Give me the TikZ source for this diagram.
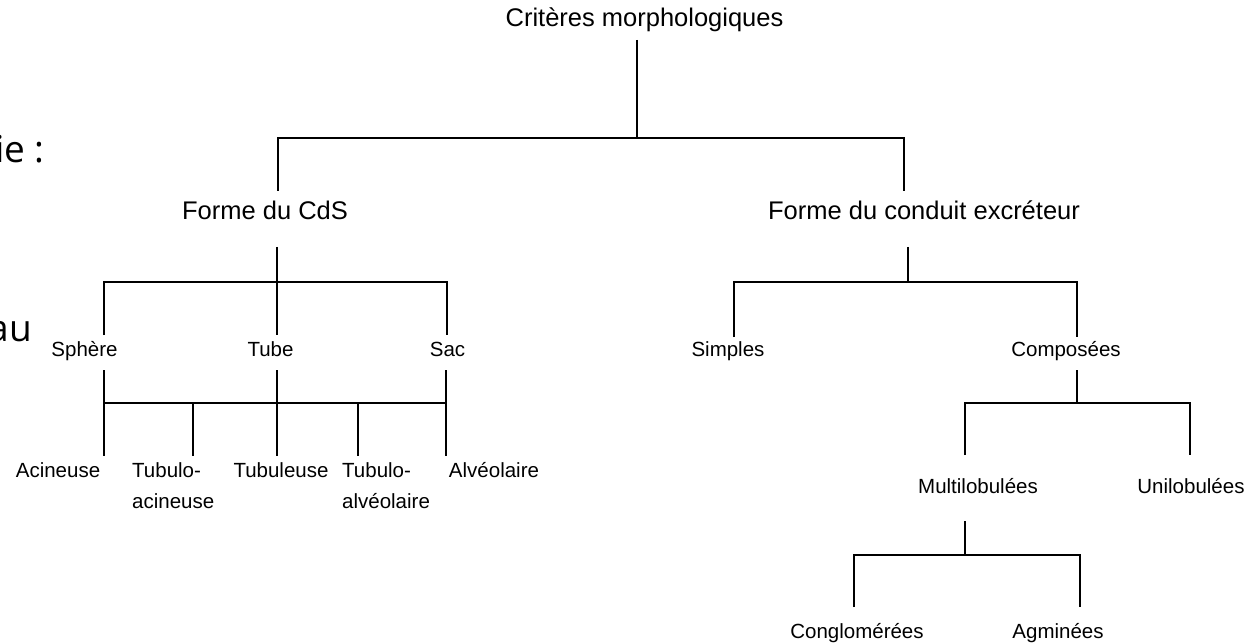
\documentclass[tikz,border=0pt]{standalone}
\usepackage{fontspec}
\setmainfont{Liberation Sans}
\newfontfamily\edgefont{Open Sans}
\begin{document}
\begin{tikzpicture}[x=1bp,y=-1bp,
  big/.style={font=\fontsize{25.5bp}{30bp}\selectfont, inner sep=0pt, anchor=base},
  small/.style={font=\fontsize{20.5bp}{31bp}\selectfont, inner sep=0pt, anchor=base},
  two/.style={small, align=left, anchor=north west},
  edgetext/.style={font=\edgefont\fontsize{37bp}{40bp}\selectfont, inner sep=0pt, anchor=base east},
  link/.style={line width=2.7bp, line cap=butt, line join=miter}]
\useasboundingbox (0,0) rectangle (1250,643);
\clip (0,0) rectangle (1250,643);
\fill[white] (0,0) rectangle (1250,643);

% text nodes
\node[big] (crit) at (644.5,27) {Critères morphologiques};
\node[big] (cds) at (265,220) {Forme du CdS};
\node[big] (cond) at (924,220) {Forme du conduit excréteur};
\node[small] (sph) at (84.5,357) {Sphère};
\node[small] (tube) at (270.5,357) {Tube};
\node[small] (sac) at (447.5,357) {Sac};
\node[small] (simp) at (728,357) {Simples};
\node[small] (comp) at (1066,357) {Composées};
\node[small] (aci) at (58,477) {Acineuse};
\node[two] (ta) at (132,462) {Tubulo-\\acineuse};
\node[small] (tub) at (281,477) {Tubuleuse};
\node[two] (tal) at (342,462) {Tubulo-\\alvéolaire};
\node[small] (alv) at (494,477) {Alvéolaire};
\node[small] (multi) at (978,493) {Multilobulées};
\node[small] (uni) at (1191,493) {Unilobulées};
\node[small] (cong) at (857,638) {Conglomérées};
\node[small] (agm) at (1058,638) {Agminées};
\node[edgetext] (e1) at (45,163) {ie :};
\node[edgetext] (e2) at (32,342) {au};

% connector end points
\coordinate (crit-s) at (637,40);
\coordinate (j0) at (637,138);
\coordinate (cds-n) at (278,191);
\coordinate (cond-n) at (904,191);

\coordinate (cds-s) at (277,247);
\coordinate (j1) at (277,282);
\coordinate (sph-n) at (104,335);
\coordinate (tube-n) at (277,335);
\coordinate (sac-n) at (447,335);

\coordinate (sph-s) at (104,370);
\coordinate (tube-s) at (277,370);
\coordinate (sac-s) at (446,370);
\coordinate (aci-n) at (104,456);
\coordinate (tub-n) at (277,456);
\coordinate (alv-n) at (446,456);
\coordinate (b2l) at (104,403);
\coordinate (b2r) at (446,403);
\coordinate (ta-j) at (193,403);
\coordinate (ta-n) at (193,456);
\coordinate (tal-j) at (358,403);
\coordinate (tal-n) at (358,456);

\coordinate (cond-s) at (908,247);
\coordinate (j3) at (908,282);
\coordinate (simp-n) at (734,337);
\coordinate (comp-n) at (1077,337);

\coordinate (comp-s) at (1077,370);
\coordinate (j4) at (1077,403);
\coordinate (multi-n) at (965,455);
\coordinate (uni-n) at (1190,455);

\coordinate (multi-s) at (965,521);
\coordinate (j5) at (965,555);
\coordinate (cong-n) at (854,607);
\coordinate (agm-n) at (1080,607);

% connectors
\draw[link] (crit-s) -- (j0);
\draw[link] (cds-n) |- (j0) -| (cond-n);

\draw[link] (cds-s) -- (j1);
\draw[link] (sph-n) |- (j1) -| (sac-n);
\draw[link] (j1) -- (tube-n);

\draw[link] (sph-s) -- (aci-n);
\draw[link] (tube-s) -- (tub-n);
\draw[link] (sac-s) -- (alv-n);
\draw[link] (b2l) -- (b2r);
\draw[link] (ta-j) -- (ta-n);
\draw[link] (tal-j) -- (tal-n);

\draw[link] (cond-s) -- (j3);
\draw[link] (simp-n) |- (j3) -| (comp-n);

\draw[link] (comp-s) -- (j4);
\draw[link] (multi-n) |- (j4) -| (uni-n);

\draw[link] (multi-s) -- (j5);
\draw[link] (cong-n) |- (j5) -| (agm-n);
\end{tikzpicture}
\end{document}
